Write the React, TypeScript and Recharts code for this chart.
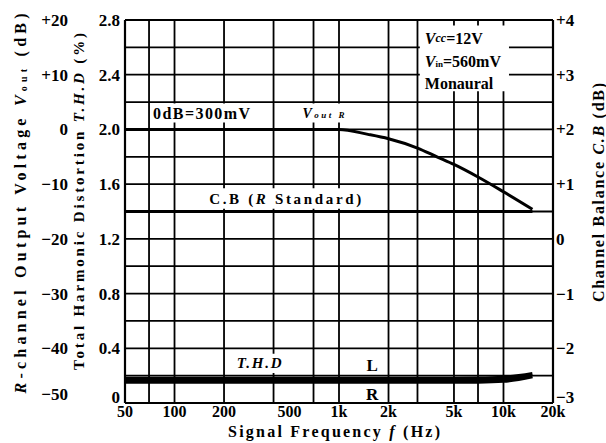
import { ComposedChart, Line, XAxis, YAxis, CartesianGrid, ReferenceArea } from 'recharts'

const SERIF = '"Liberation Serif", "DejaVu Serif", serif'

// frequency grid and labelled ticks (Hz)
const gridFreqs = [50, 60, 70, 80, 90, 100, 150, 200, 300, 400, 500, 600, 700, 800, 900, 1000, 1500, 2000, 3000, 4000, 5000, 6000, 7000, 8000, 9000, 10000, 15000, 20000]
const freqTicks = [50, 100, 200, 500, 1000, 2000, 5000, 10000, 20000]

// T.H.D axis (%)
const thdTicks = [0, 0.4, 0.8, 1.2, 1.6, 2.0, 2.4, 2.8]
const thdGrid = [0, 0.2, 0.4, 0.6, 0.8, 1.0, 1.2, 1.4, 1.6, 1.8, 2.0, 2.2, 2.4, 2.6, 2.8]
// R-channel output voltage axis (dB)
const voutTicks = [-50, -40, -30, -20, -10, 0, 10, 20]
// channel balance axis (dB)
const cbTicks = [-3, -2, -1, 0, 1, 2, 3, 4]

// measured curves
const freqs = [50, 100, 200, 500, 1000, 1500, 2000, 3000, 4000, 5000, 7000, 10000, 15000]
const voutR = [0, 0, 0, 0, 0, -0.9, -1.7, -3.4, -5.1, -6.4, -8.7, -11.4, -14.6]
const cbR = [0.5, 0.5, 0.5, 0.5, 0.5, 0.5, 0.5, 0.5, 0.5, 0.5, 0.5, 0.5, 0.5]
const thdL = [0.178, 0.178, 0.178, 0.178, 0.178, 0.178, 0.178, 0.178, 0.178, 0.178, 0.179, 0.185, 0.213]
const thdR = [0.155, 0.155, 0.155, 0.155, 0.155, 0.155, 0.155, 0.155, 0.155, 0.155, 0.156, 0.162, 0.196]

const data = freqs.map((f, i) => ({ f, vout: voutR[i], cb: cbR[i], thdL: thdL[i], thdR: thdR[i] }))

// axis ids: the left axes are laid out in id order, first one next to the plot
const THD = 'a_thd'
const DB = 'b_db'
const CB = 'c_cb'

const fmtFreq = (v: number) => (v >= 1000 ? `${v / 1000}k` : `${v}`)
const fmtSigned = (v: number) => (v > 0 ? `+${v}` : v < 0 ? `\u2212${-v}` : '0')
const fmtThd = (v: number) => (v === 0 ? '0' : v.toFixed(1))

const tickFont = { fontFamily: SERIF, fontSize: 17, fontWeight: 700, fill: '#000' }

// y tick that nudges the lowest label up, as in the printed sheet
const yTick = (fmt: (v: number) => string, low: number, shift: number) => (p: any) => (
  <text x={p.x} y={p.y + (p.payload.value === low ? -shift : 0)} dy="0.35em" textAnchor={p.textAnchor} {...tickFont}>
    {fmt(p.payload.value)}
  </text>
)

const vTitle = (dx: number, dy: number, len: number, size: number, body: any) => (p: any) => {
  const vb = p.viewBox
  const cx = vb.x + dx
  const cy = vb.y + vb.height / 2 + dy
  return (
    <text x={cx} y={cy} transform={`rotate(-90, ${cx}, ${cy})`} textAnchor="middle" dominantBaseline="central"
      textLength={len} lengthAdjust="spacing" fontFamily={SERIF} fontSize={size} fontWeight={700} fill="#000">
      {body}
    </text>
  )
}

const centered = (len: number, size: number, body: any, italic = false) => (p: any) => {
  const vb = p.viewBox
  return (
    <text x={vb.x + vb.width / 2} y={vb.y + vb.height / 2} textAnchor="middle" dominantBaseline="central"
      textLength={len} lengthAdjust="spacing" fontFamily={SERIF} fontSize={size} fontWeight={700}
      fontStyle={italic ? 'italic' : 'normal'} fill="#000">
      {body}
    </text>
  )
}

const conditions = (p: any) => {
  const vb = p.viewBox
  const x = vb.x + 5
  const t = { fontFamily: SERIF, fontSize: 16, fontWeight: 700, fill: '#000' }
  return (
    <g>
      <text x={x} y={vb.y + 13} dominantBaseline="central" {...t}>
        <tspan fontStyle="italic">V</tspan><tspan fontStyle="italic" fontSize={12}>cc</tspan>=12V
      </text>
      <text x={x} y={vb.y + 36} dominantBaseline="central" {...t}>
        <tspan fontStyle="italic">V</tspan><tspan fontSize={9} dy={3}>in</tspan><tspan dy={-3}>=560mV</tspan>
      </text>
      <text x={x} y={vb.y + 58} dominantBaseline="central" {...t}>Monaural</text>
    </g>
  )
}

export default function App() {
  return (
    <div style={{ position: 'absolute', left: 0, top: 0, background: '#fff' }}>
      <ComposedChart width={606} height={443} data={data} margin={{ top: 20, right: 0, bottom: 0, left: 0 }}>
        <CartesianGrid xAxisId="f" yAxisId={THD} verticalValues={gridFreqs} horizontalValues={thdGrid}
          stroke="#000" strokeWidth={1.8} />
        <XAxis xAxisId="f" dataKey="f" type="number" scale="log" domain={[50, 20000]} ticks={freqTicks}
          tickFormatter={fmtFreq} allowDataOverflow height={40} tickSize={0} tickMargin={3}
          axisLine={{ stroke: '#000', strokeWidth: 2.2 }} tick={{ ...tickFont, fontSize: 16 }}
          label={(p: any) => (
            <text x={p.viewBox.x + p.viewBox.width / 2 - 5} y={p.viewBox.y + 34} textAnchor="middle"
              textLength={212} lengthAdjust="spacing" fontFamily={SERIF} fontSize={16} fontWeight={700} fill="#000">
              Signal Frequency <tspan fontStyle="italic">f</tspan> (Hz)
            </text>
          )} />
        <YAxis yAxisId={THD} orientation="left" domain={[0, 2.8]} ticks={thdTicks} width={55}
          tickSize={0} tickMargin={5} axisLine={{ stroke: '#000', strokeWidth: 2.2 }}
          tick={yTick(fmtThd, 0, 6)}
          label={vTitle(9, -10, 337, 15, <>Total Harmonic Distortion <tspan fontStyle="italic">T.H.D</tspan> (%)</>)} />
        <YAxis yAxisId={DB} orientation="left" domain={[-50, 20]} ticks={voutTicks} width={70}
          tickSize={0} tickMargin={2} axisLine={false} tick={yTick(fmtSigned, -50, 9)}
          label={vTitle(20, -8, 380, 16, <><tspan fontStyle="italic">R</tspan>-channel Output Voltage <tspan fontStyle="italic">V</tspan><tspan fontSize={10} dy={3}>out</tspan><tspan dy={-3}> (dB)</tspan></>)} />
        <YAxis yAxisId={CB} orientation="right" domain={[-3, 4]} ticks={cbTicks} width={53}
          tickSize={0} tickMargin={3} axisLine={{ stroke: '#000', strokeWidth: 2.2 }}
          tick={yTick(fmtSigned, -3, 6)}
          label={vTitle(45, -19, 219, 16, <>Channel Balance <tspan fontStyle="italic">C.B</tspan> (dB)</>)} />

        <ReferenceArea xAxisId="f" yAxisId={THD} x1={73} x2={292} y1={2.05} y2={2.19} fill="#fff" fillOpacity={1} stroke="none"
          label={centered(97, 16, <>0dB=300mV</>)} />
        <ReferenceArea xAxisId="f" yAxisId={THD} x1={556} x2={1166} y1={2.05} y2={2.19} fill="#fff" fillOpacity={1} stroke="none"
          label={centered(42, 14, <>V<tspan fontSize={9} dy={2}>out R</tspan></>, true)} />
        <ReferenceArea xAxisId="f" yAxisId={THD} x1={153} x2={1450} y1={1.42} y2={1.57} fill="#fff" fillOpacity={1} stroke="none"
          label={centered(152, 15, <>C.B (<tspan fontStyle="italic">R</tspan> Standard)</>)} />
        <ReferenceArea xAxisId="f" yAxisId={THD} x1={223} x2={480} y1={0.22} y2={0.36} fill="#fff" fillOpacity={1} stroke="none"
          label={centered(45, 15, <>T.H.D</>, true)} />
        <ReferenceArea xAxisId="f" yAxisId={THD} x1={3100} x2={10800} y1={2.28} y2={2.76} fill="#fff" fillOpacity={1} stroke="none"
          label={conditions} />
        <ReferenceArea xAxisId="f" yAxisId={THD} x1={1450} x2={1750} y1={0.22} y2={0.335} fill="none" stroke="none"
          label={centered(11, 17, <>L</>)} />
        <ReferenceArea xAxisId="f" yAxisId={THD} x1={1450} x2={1750} y1={0.01} y2={0.12} fill="none" stroke="none"
          label={centered(11, 17, <>R</>)} />

        <Line xAxisId="f" yAxisId={DB} dataKey="vout" type="monotone" stroke="#000" strokeWidth={3} dot={false} isAnimationActive={false} />
        <Line xAxisId="f" yAxisId={CB} dataKey="cb" type="monotone" stroke="#000" strokeWidth={3} dot={false} isAnimationActive={false} />
        <Line xAxisId="f" yAxisId={THD} dataKey="thdL" type="monotone" stroke="#000" strokeWidth={4} dot={false} isAnimationActive={false} />
        <Line xAxisId="f" yAxisId={THD} dataKey="thdR" type="monotone" stroke="#000" strokeWidth={4} dot={false} isAnimationActive={false} />
      </ComposedChart>
    </div>
  )
}
